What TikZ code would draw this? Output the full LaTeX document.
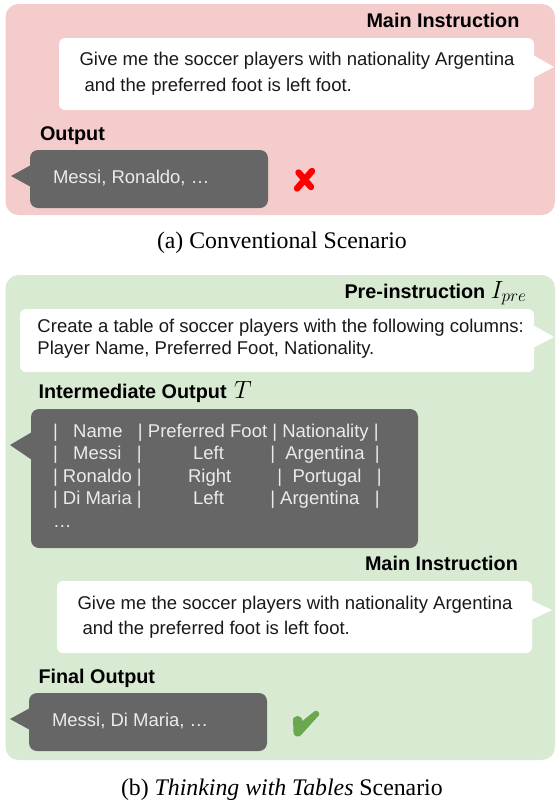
\documentclass[tikz,border=0pt]{standalone}
\usepackage{fontspec}
\setmainfont{Liberation Sans}
\newfontfamily\capfont{Liberation Serif}
\definecolor{pinkpanel}{HTML}{F4CCCC}
\definecolor{greenpanel}{HTML}{D9EAD3}
\definecolor{graybub}{HTML}{666666}
\definecolor{okgreen}{HTML}{6AA84F}
\tikzset{
  panel/.style={rounded corners=13pt},
  bubwhite/.style={fill=white,rounded corners=6pt},
  bubgray/.style={fill=graybub,rounded corners=8pt},
  lab/.style={anchor=base west,inner sep=0pt,outer sep=0pt},
  head/.style={lab,font=\fontsize{19.8}{22}\selectfont\bfseries,text=black},
  body/.style={lab,font=\fontsize{18.5}{21}\selectfont,text=black!90},
  bodyg/.style={lab,font=\fontsize{18.5}{21}\selectfont,text=white!92!black},
  captext/.style={lab,font=\fontsize{23.8}{26}\selectfont\capfont,text=black},
  crossmark/.style={draw=red,line width=6.5pt,line cap=round},
  checkmark/.style={fill=okgreen,draw=okgreen,line width=3pt,line join=round},
}
\begin{document}
\begin{tikzpicture}[x=1pt,y=-1pt]
\useasboundingbox (0,0) rectangle (555,801);
% panels
\fill[pinkpanel,panel] (5.5,4) rectangle (555,215);
\fill[greenpanel,panel] (5.5,275) rectangle (555,760);
% scenario a
\fill[white] (533,55) -- (554,67) -- (533,78) -- cycle;
\fill[bubwhite] (59,38) rectangle (534,110);
\fill[graybub] (31,165) -- (11,176) -- (31,187) -- cycle;
\fill[bubgray] (30,150) rectangle (268,208);
\node[head] (mi1) at (366.5,27) {Main Instruction};
\node[body] (g1) at (79.5,65) {Give me the soccer players with nationality Argentina};
\node[body] (g2) at (84.5,91) {and the preferred foot is left foot.};
\node[head] (out1) at (40,140) {Output};
\node[bodyg] (ans1) at (53,183) {Messi, Ronaldo, …};
\draw[crossmark] (298.5,172.5) -- (311,187) (312,171) -- (297,188.5);
\node[captext] (capa) at (157,248) {(a) Conventional Scenario};
% scenario b
\fill[white] (533,325) -- (554,337) -- (533,348) -- cycle;
\fill[bubwhite] (20,309) rectangle (534,372);
\fill[graybub] (32,432) -- (10,445) -- (32,460) -- cycle;
\fill[bubgray] (31,409) rectangle (418,548);
\fill[white] (531,600) -- (552,610) -- (531,620) -- cycle;
\fill[bubwhite] (57,581) rectangle (532,653);
\fill[graybub] (30,708) -- (10,719) -- (30,730) -- cycle;
\fill[bubgray] (29,693) rectangle (267,751);
\node[head] (pre) at (344.5,298) {Pre-instruction \fontsize{23.5}{25}\selectfont$I_{pre}$};
\node[body] (c1) at (37.5,332) {Create a table of soccer players with the following columns:};
\node[body] (c2) at (37.5,354) {Player Name, Preferred Foot, Nationality.};
\node[head] (inter) at (38.5,398) {Intermediate Output\hspace{2pt} \fontsize{23.5}{25}\selectfont$T$};
\node[bodyg] (r1) at (53,437) {|~~~Name~~~| Preferred Foot | Nationality |};
\node[bodyg] (r2) at (53,459) {|~~~Messi~~~|~~~~~~~~~~Left~~~~~~~~~|~~Argentina~~|};
\node[bodyg] (r3) at (53,482) {| Ronaldo |~~~~~~~~~Right~~~~~~~~~|~~Portugal~~~|};
\node[bodyg] (r4) at (53,504) {| Di Maria |~~~~~~~~~~Left~~~~~~~~~| Argentina~~~|};
\node[bodyg] (r5) at (53,527) {…};
\node[head] (mi2) at (365,570) {Main Instruction};
\node[body] (g3) at (77.5,609) {Give me the soccer players with nationality Argentina};
\node[body] (g4) at (82.5,634) {and the preferred foot is left foot.};
\node[head] (out2) at (38.5,683) {Final Output};
\node[bodyg] (ans2) at (52,726) {Messi, Di Maria, …};
\draw[checkmark] (294.5,719) .. controls (296,717) and (299,717) .. (300.5,719) -- (301,724) -- (316,712) -- (318,714) -- (300,734) .. controls (298,736) and (295,735) .. (295,732) -- cycle;
\node[captext] (capb) at (121,795) {(b) \textit{Thinking with Tables} Scenario};
\end{tikzpicture}
\end{document}
